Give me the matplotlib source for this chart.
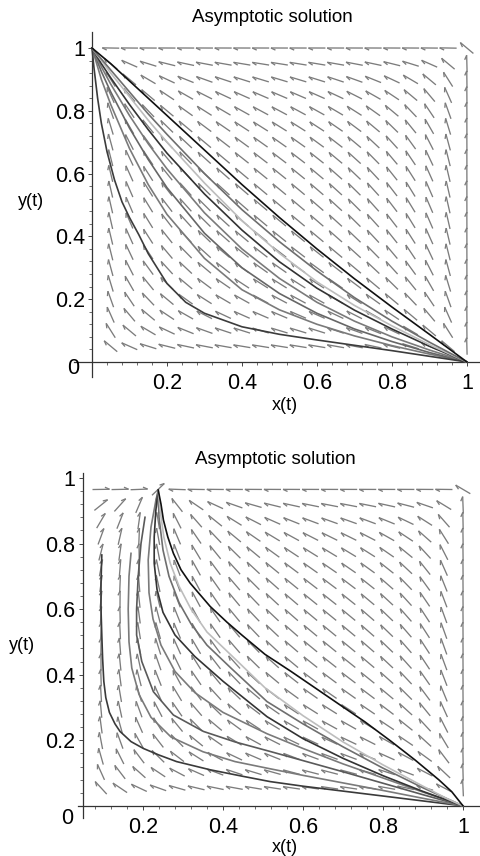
import numpy as np
import matplotlib
matplotlib.use("Agg")
import matplotlib.pyplot as plt
from matplotlib.collections import LineCollection

plt.rcParams['font.family'] = ['Liberation Sans', 'DejaVu Sans']

W, H = 481, 856

# ---- upper panel: trajectories --------------------------------------------
top_x = [0, 0.01, 0.025, 0.05, 0.1, 0.15, 0.2, 0.3, 0.4, 0.5, 0.6, 0.7, 0.8, 0.9, 1.0]
top_A = [1, 0.99, 0.975, 0.95, 0.895, 0.84, 0.785, 0.675, 0.565, 0.46, 0.36, 0.265, 0.175, 0.088, 0]
top_B = [1, 0.985, 0.965, 0.93, 0.86, 0.79, 0.725, 0.6, 0.485, 0.383, 0.29, 0.205, 0.13, 0.063, 0]
top_C = [1, 0.983, 0.96, 0.92, 0.845, 0.77, 0.7, 0.57, 0.45, 0.346, 0.255, 0.18, 0.115, 0.055, 0]
top_D = [1, 0.98, 0.95, 0.905, 0.82, 0.74, 0.665, 0.535, 0.42, 0.319, 0.235, 0.165, 0.105, 0.05, 0]
top_E1 = [1, 0.975, 0.94, 0.885, 0.785, 0.695, 0.615, 0.475, 0.36, 0.266, 0.19, 0.13, 0.08, 0.038, 0]
top_E2 = [1, 0.97, 0.925, 0.86, 0.745, 0.645, 0.555, 0.41, 0.3, 0.218, 0.155, 0.105, 0.065, 0.03, 0]
top_E3 = [1, 0.96, 0.9, 0.82, 0.68, 0.565, 0.47, 0.33, 0.23, 0.166, 0.12, 0.083, 0.052, 0.025, 0]
top_F_x = [0, 0.005, 0.015, 0.025, 0.04, 0.06, 0.08, 0.1, 0.125, 0.15, 0.2, 0.25, 0.3, 0.4, 0.5,
           0.6, 0.7, 0.8, 0.9, 1.0]
top_F_y = [1, 0.94, 0.84, 0.76, 0.67, 0.58, 0.51, 0.46, 0.405, 0.345, 0.25, 0.19, 0.155, 0.112,
           0.088, 0.07, 0.053, 0.036, 0.018, 0]

top_curves = [
    (top_x, top_E3, '#7a7a7a'),
    (top_x, top_E2, '#666666'),
    (top_x, top_E1, '#7a7a7a'),
    (top_F_x, top_F_y, '#3c3c3c'),
    (top_x, top_D, '#333333'),
    (top_x, top_C, '#bdbdbd'),
    (top_x, top_B, '#6e6e6e'),
    (top_x, top_A, '#111111'),
]

# ---- lower panel: trajectories --------------------------------------------
bot_black_x = [0.238, 0.245, 0.251, 0.262, 0.276, 0.295, 0.318, 0.368, 0.41, 0.447, 0.505, 0.57,
               0.63, 0.69, 0.755, 0.82, 0.88, 0.94, 0.972, 1.0]
bot_black_y = [0.963, 0.92, 0.872, 0.82, 0.77, 0.72, 0.679, 0.608, 0.56, 0.521, 0.462, 0.41,
               0.36, 0.31, 0.256, 0.197, 0.14, 0.079, 0.043, 0]
bot_light_x = [0.238, 0.243, 0.252, 0.268, 0.29, 0.32, 0.36, 0.42, 0.505, 0.6, 0.7, 0.8, 0.9, 0.96, 1.0]
bot_light_y = [0.963, 0.9, 0.82, 0.74, 0.67, 0.6, 0.53, 0.46, 0.36, 0.275, 0.195, 0.125, 0.06, 0.022, 0]
bot_ga_x = [0.238, 0.24, 0.25, 0.265, 0.29, 0.32, 0.36, 0.42, 0.51, 0.6, 0.7, 0.8, 0.9, 1.0]
bot_ga_y = [0.963, 0.88, 0.78, 0.7, 0.62, 0.555, 0.49, 0.42, 0.318, 0.25, 0.18, 0.115, 0.055, 0]
bot_d_x = [0.238, 0.232, 0.228, 0.228, 0.235, 0.25, 0.28, 0.33, 0.4, 0.51, 0.6, 0.7, 0.8, 0.9, 1.0]
bot_d_y = [0.963, 0.9, 0.82, 0.74, 0.66, 0.59, 0.521, 0.455, 0.38, 0.272, 0.205, 0.145, 0.092, 0.044, 0]
bot_gb_x = [0.238, 0.232, 0.22, 0.213, 0.215, 0.225, 0.245, 0.28, 0.33, 0.4, 0.51, 0.6, 0.7, 0.8, 0.9, 1.0]
bot_gb_y = [0.963, 0.93, 0.85, 0.75, 0.65, 0.57, 0.49, 0.41, 0.345, 0.285, 0.22, 0.175, 0.128, 0.085, 0.042, 0]
bot_l2_x = [0.205, 0.195, 0.188, 0.184, 0.184, 0.197, 0.226, 0.276, 0.351, 0.43, 0.5175, 0.6, 0.7, 0.8, 0.9, 1.0]
bot_l2_y = [0.88, 0.8, 0.7, 0.6, 0.521, 0.44, 0.348, 0.277, 0.227, 0.195, 0.166, 0.138, 0.104, 0.069, 0.034, 0]
bot_gc_x = [0.17, 0.165, 0.163, 0.165, 0.172, 0.19, 0.22, 0.27, 0.35, 0.43, 0.51, 0.6, 0.7, 0.8, 0.9, 1.0]
bot_gc_y = [0.77, 0.7, 0.6, 0.5, 0.42, 0.34, 0.27, 0.21, 0.165, 0.135, 0.115, 0.093, 0.07, 0.047, 0.023, 0]
bot_l1_x = [0.097, 0.095, 0.095, 0.097, 0.099, 0.102, 0.107, 0.116, 0.13, 0.1425, 0.17, 0.201, 0.24,
            0.284, 0.368, 0.45, 0.518, 0.6, 0.7, 0.8, 0.9, 1.0]
bot_l1_y = [0.765, 0.68, 0.6, 0.521, 0.45, 0.38, 0.33, 0.285, 0.25, 0.227, 0.196, 0.175, 0.155,
            0.135, 0.11, 0.09, 0.074, 0.06, 0.045, 0.03, 0.015, 0]

bot_curves = [
    (bot_l1_x, bot_l1_y, '#3a3a3a'),
    (bot_gc_x, bot_gc_y, '#7a7a7a'),
    (bot_l2_x, bot_l2_y, '#5a5a5a'),
    (bot_gb_x, bot_gb_y, '#7a7a7a'),
    (bot_d_x, bot_d_y, '#333333'),
    (bot_ga_x, bot_ga_y, '#6e6e6e'),
    (bot_light_x, bot_light_y, '#bdbdbd'),
    (bot_black_x, bot_black_y, '#111111'),
]

tick_vals = [0.2, 0.4, 0.6, 0.8, 1.0]
tick_text = ['0.2', '0.4', '0.6', '0.8', '1']


# direction fields of the two systems (slope fields, as in DEplot)
def top_field(x, y):
    x = np.clip(x, 1e-3, 0.999)
    y = np.clip(y, 1e-3, 0.999)
    return -x * (1 - x), y * (1 - y)


def bot_field(x, y):
    x = np.clip(x, 1e-3, 0.999)
    y = np.clip(y, 1e-3, 0.964)
    c = 0.24 - 0.28 * (0.965 - y)
    return (x + 0.15) * (1 - x) * (c - x), 0.65 * y * (0.965 - y)


def draw_field(ax, cols, rows, field, sx, sy, length=17.0, barb=5.0):
    segs = []
    ang = np.deg2rad(155)
    for xc in cols:
        for yc in rows:
            u, v = field(xc, yc)
            pu, pv = u * sx, v * sy
            n = np.hypot(pu, pv)
            if n == 0:
                continue
            pu, pv = pu / n, pv / n
            hx, hy = xc + pu * length / 2 / sx, yc + pv * length / 2 / sy
            tx, ty = xc - pu * length / 2 / sx, yc - pv * length / 2 / sy
            segs.append([(tx, ty), (hx, hy)])
            bu = pu * np.cos(ang) - pv * np.sin(ang)
            bv = pu * np.sin(ang) + pv * np.cos(ang)
            segs.append([(hx, hy), (hx + bu * barb / sx, hy + bv * barb / sy)])
    lc = LineCollection(segs, colors='#7c7c7c', linewidths=0.95, zorder=1)
    ax.add_collection(lc)


def style_axes(ax, x0, minor_x, ypad):
    for s in ['top', 'right']:
        ax.spines[s].set_visible(False)
    ax.spines['left'].set_position(('data', x0))
    ax.spines['bottom'].set_position(('data', 0))
    for s in ['left', 'bottom']:
        ax.spines[s].set_color('#333333')
        ax.spines[s].set_linewidth(0.9)
    ax.set_xticks(tick_vals)
    ax.set_xticklabels(tick_text)
    ax.set_yticks(tick_vals)
    ax.set_yticklabels(tick_text)
    ax.set_xticks(minor_x, minor=True)
    ax.set_yticks(np.arange(0.04, 1.0, 0.04), minor=True)
    ax.tick_params(which='major', direction='out', length=3.2, width=0.7, color='#444444',
                   labelsize=15.5)
    ax.tick_params(which='minor', direction='out', length=2.0, width=0.6, color='#555555')
    ax.tick_params(axis='x', pad=5)
    ax.tick_params(axis='y', pad=ypad)
    ax.patch.set_alpha(0)


fig = plt.figure(figsize=(W / 100, H / 100), dpi=100)

# upper panel
ax1 = fig.add_axes([74 / W, 1 - 377 / H, 406 / W, 345 / H])
ax1.set_xlim(-0.048, 1.035)
ax1.set_ylim(-0.048, 1.051)
style_axes(ax1, 0, np.arange(0.04, 1.0, 0.04), 1.5)
draw_field(ax1, np.linspace(0.05, 1.0, 20), np.linspace(0.05, 1.0, 20), top_field, 375, 314)
for xs, ys, col in top_curves:
    ax1.plot(xs, ys, color=col, lw=1.2, zorder=3, solid_joinstyle='round')

# lower panel
ax2 = fig.add_axes([78 / W, 1 - 818 / H, 402 / W, 345 / H])
ax2.set_xlim(0.0375, 1.0425)
ax2.set_ylim(-0.037, 1.015)
style_axes(ax2, 0.05, np.arange(0.08, 1.0, 0.04), 2.5)
draw_field(ax2, np.linspace(0.095, 1.0, 20), np.linspace(0.055, 0.965, 20), bot_field, 400, 328)
for xs, ys, col in bot_curves:
    ax2.plot(xs, ys, color=col, lw=1.2, zorder=3, solid_joinstyle='round')

# titles, axis names and the origin label, placed like the Maple output
for (tx, ty), (lx, ly), (yx, yy), (zx, zy) in [((272, 17), (285, 405), (31, 202), (73, 368)),
                                               ((275, 460), (285, 847), (22, 645), (67, 818))]:
    fig.text(tx / W, 1 - ty / H, 'Asymptotic solution', ha='center', va='center', fontsize=13.5)
    fig.text(lx / W, 1 - ly / H, 'x(t)', ha='center', va='center', fontsize=13)
    fig.text(yx / W, 1 - yy / H, 'y(t)', ha='center', va='center', fontsize=13)
    fig.text(zx / W, 1 - zy / H, '0', ha='center', va='center', fontsize=15.5)

fig.savefig('out.png', dpi=100)
